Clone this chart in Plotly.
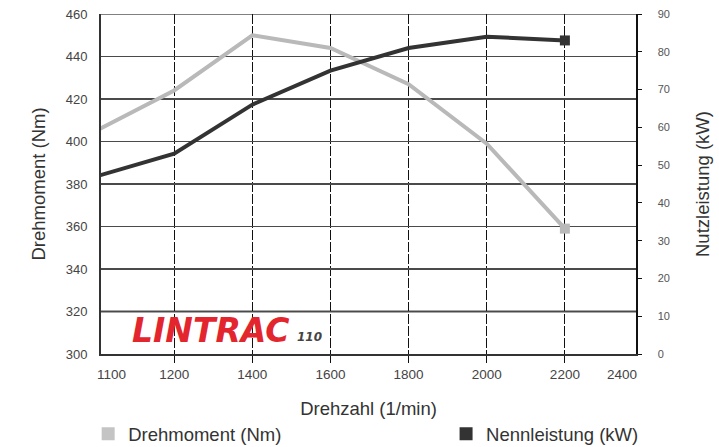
import plotly.graph_objects as go

# ---- data ----
rpm_labels = ["1100", "1200", "1400", "1600", "1800", "2000", "2200", "2400"]
rpm_points = ["1100", "1200", "1400", "1600", "1800", "2000", "2200"]
torque_nm = [405, 424, 450, 444, 427, 399, 359]
power_kw = [47, 53, 66, 75, 81, 84, 83]
torque_ticks = [300, 320, 340, 360, 380, 400, 420, 440, 460]
power_ticks = [0, 10, 20, 30, 40, 50, 60, 70, 80, 90]

LIGHT = "#b9b9b9"
DARK = "#333333"
FONT = "Liberation Sans, Arial, sans-serif"
TITLE_SIZE = 18.5

fig = go.Figure()

fig.add_trace(go.Scatter(
    x=rpm_points, y=torque_nm, mode="lines", line=dict(color=LIGHT, width=4),
    showlegend=False, xaxis="x", yaxis="y", cliponaxis=True, hoverinfo="skip"))
fig.add_trace(go.Scatter(
    x=rpm_points[-1:], y=torque_nm[-1:], mode="markers",
    marker=dict(symbol="square", size=10, color=LIGHT), showlegend=False,
    xaxis="x", yaxis="y", hoverinfo="skip"))
fig.add_trace(go.Scatter(
    x=rpm_points, y=power_kw, mode="lines", line=dict(color=DARK, width=4),
    showlegend=False, xaxis="x", yaxis="y2", cliponaxis=True, hoverinfo="skip"))
fig.add_trace(go.Scatter(
    x=rpm_points[-1:], y=power_kw[-1:], mode="markers",
    marker=dict(symbol="square", size=10, color=DARK), showlegend=False,
    xaxis="x", yaxis="y2", hoverinfo="skip"))

# legend-only traces (two separate legends, placed apart)
fig.add_trace(go.Scatter(x=[None], y=[None], mode="markers", name="Drehmoment (Nm)",
                         marker=dict(symbol="square", size=13, color="#c4c4c4"), legend="legend"))
fig.add_trace(go.Scatter(x=[None], y=[None], mode="markers", name="Nennleistung (kW)",
                         marker=dict(symbol="square", size=13, color=DARK), legend="legend2"))

legend_common = dict(orientation="h", xanchor="left", y=-0.18, yanchor="top",
                     font=dict(size=TITLE_SIZE, color="#333333"), itemsizing="trace",
                     bgcolor="rgba(0,0,0,0)")

fig.update_layout(
    width=719, height=447,
    margin=dict(l=101, r=83, t=14, b=93, autoexpand=False),
    paper_bgcolor="white", plot_bgcolor="white",
    font=dict(family=FONT, color="#444444"),
    hovermode=False,
    xaxis=dict(
        type="category", categoryorder="array", categoryarray=rpm_labels,
        range=[0.064, 6.91], automargin=False,
        showgrid=True, gridcolor="#111111", gridwidth=1, griddash="10px,2px",
        showline=True, linecolor=DARK, linewidth=2, mirror=False,
        ticks="outside", ticklen=7, tickcolor="#111111", tickwidth=1,
        tickfont=dict(size=13.5, color="#444444"), ticklabelstandoff=0,
        title=dict(text="Drehzahl (1/min)", font=dict(size=TITLE_SIZE, color="#333333"), standoff=21),
        zeroline=False,
    ),
    yaxis=dict(
        range=[300, 460], tickvals=torque_ticks, automargin=False,
        showgrid=True, gridcolor="#4a4a4a", gridwidth=1.5,
        showline=True, linecolor=DARK, linewidth=2,
        ticks="", tickfont=dict(size=13, color="#444444"), ticklabelstandoff=9,
        title=dict(text="Drehmoment (Nm)", font=dict(size=TITLE_SIZE, color="#333333"), standoff=15),
        zeroline=False,
    ),
    yaxis2=dict(
        range=[0, 90], tickvals=power_ticks, overlaying="y", side="right", automargin=False,
        showgrid=False, showline=True, linecolor="#111111", linewidth=1.5,
        ticks="outside", ticklen=4, tickcolor="#111111",
        tickfont=dict(size=11, color="#555555"), ticklabelstandoff=14,
        title=dict(text="Nutzleistung (kW)", font=dict(size=TITLE_SIZE, color="#333333"), standoff=27),
        zeroline=False,
    ),
    legend=dict(x=-0.024, **legend_common),
    legend2=dict(x=0.645, **legend_common),
)

# grid line at 320 lighter/thicker and top border
fig.add_shape(type="line", xref="paper", x0=0, x1=1, yref="y", y0=torque_ticks[1], y1=torque_ticks[1],
              line=dict(color="#8a8a8a", width=2.5), layer="between")
fig.add_shape(type="line", xref="paper", x0=0, x1=1, yref="y", y0=torque_ticks[-1], y1=torque_ticks[-1],
              line=dict(color="#808080", width=2), layer="between")

# edge tick labels
fig.add_annotation(text=rpm_labels[0], xref="paper", yref="paper", x=0, y=0, xanchor="left",
                   yanchor="middle", xshift=-6, yshift=-20, showarrow=False,
                   font=dict(size=13.5, color="#444444"))
fig.add_annotation(text=rpm_labels[-1], xref="paper", yref="paper", x=1, y=0, xanchor="right",
                   yanchor="middle", xshift=3, yshift=-20, showarrow=False,
                   font=dict(size=13.5, color="#444444"))

# value labels
fig.add_annotation(text=f"{max(torque_nm)} Nm", x=rpm_points[2], y=max(torque_nm), xref="x", yref="y",
                   xanchor="right", yanchor="bottom", xshift=-8, yshift=-4, showarrow=False,
                   font=dict(size=16, color="#333333"))
fig.add_annotation(text=f"{power_kw[-1]} kW", x=rpm_points[-1], y=power_kw[-1], xref="x", yref="y2",
                   xanchor="left", yanchor="middle", xshift=12, showarrow=False,
                   font=dict(size=16, color="#333333"))

# logo
fig.add_annotation(text="<b><i>LINTRAC</i></b>", xref="paper", yref="paper", x=0.205, y=0.068,
                   xanchor="center", yanchor="middle", showarrow=False,
                   font=dict(size=33, color="#e3262e", family="DejaVu Sans"))
fig.add_annotation(text="<b><i>110</i></b>", xref="paper", yref="paper", x=0.39, y=0.05,
                   xanchor="center", yanchor="middle", showarrow=False,
                   font=dict(size=12, color="#444444", family="DejaVu Sans"))

fig.write_html("out.html", post_script="document.body.style.margin='0';",
               config={"displayModeBar": False, "staticPlot": True})
